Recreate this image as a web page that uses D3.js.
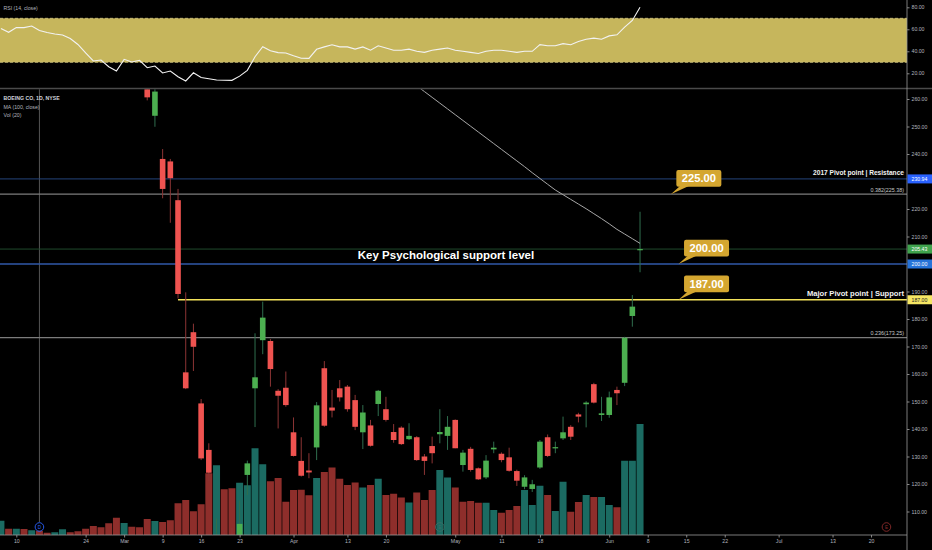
<!DOCTYPE html>
<html>
<head>
<meta charset="utf-8">
<script src="https://cdn.jsdelivr.net/npm/d3@7"></script>
<style>
body { margin: 0; background: #000; overflow: hidden; }
svg { display: block; font-family: "Liberation Sans", Arial, sans-serif; }
</style>
</head>
<body>
<svg id="chart" width="932" height="550"></svg>
<script>
// trading calendar of the chart
var holidays = ["2020-02-17", "2020-04-10", "2020-05-25", "2020-07-03"];
var firstDay = "2020-02-06", lastDay = "2020-06-05";

// volume (millions), one per trading day from Feb 6
var volume = [11.4, 5.0, 5.0, 4.8, 3.8, 3.4, 1.8, 2.2, 4.6, 2.2, 3.0, 5.0, 7.2, 6.2, 9.4, 13.8,
    9.6, 6.6, 6.2, 12.8, 11.2, 10.4, 11.8, 25.4, 28, 19, 24.6, 49.4, 55.8, 36.6, 37.4, 41.8, 39.8, 69.4, 56.6, 43, 45.6, 26.6,
    36, 36.2, 31.8, 45.6, 50.4, 54, 45, 40, 42, 38, 40, 45, 32, 33, 30, 26, 34, 28, 36, 52, 46,
    38, 26.6, 27.2, 25.8, 25.8, 20, 17.8, 20, 23.2, 36, 24, 39.4, 32, 19.2, 42.6, 18.6, 26.4, 32, 30.4, 30.4,
    24, 22.2, 59.4, 59.4, 88.8];
var volUp = [1, 0, 1, 0, 1, 0, 0, 1, 1, 0, 0, 0, 0, 0, 0, 0,
    1, 0, 0, 0, 1, 0, 0, 0, 0, 0, 0, 0, 1, 0, 0, 1, 1, 1, 1, 0, 0, 0,
    0, 0, 0, 1, 0, 0, 0, 0, 0, 1, 0, 1, 0, 0, 0, 1, 0, 0, 0, 1, 1,
    0, 0, 0, 0, 1, 1, 0, 0, 0, 1, 1, 1, 0, 1, 1, 0, 0, 1, 0, 1,
    1, 0, 1, 1, 1];

// candles from Mar 5 (earlier ones sit above the visible range)
var skipped = 19;
var open = [272, 253.9, 238.2, 237.3, 223.2, 160.6, 175.2, 149.3, 132.4, 95, 101, 100, 92, 123.3, 154.8, 172.3, 172, 153.9, 155,
    138.8, 128.4, 124.9, 133.3, 162.1, 147.8, 154.8, 155.4, 150.5, 138.8, 141.3, 149.1, 147.2, 138.9, 140.5, 136.3, 137, 130, 133.8, 138.1, 137.5,
    143.3, 126.9, 132.8, 125.7, 122.4, 132.6, 131, 129.7, 124.7, 119, 118.2, 126, 137, 133.2, 136.6, 140.8, 145.3, 149, 156.3, 145.1,
    145.1, 154.2, 156.8, 181.1, 205];
var high = [280, 264.5, 241.8, 238.2, 227.3, 189.7, 178.3, 150.9, 134.8, 107.5, 103.3, 104, 114, 128.5, 174.8, 186.3, 172.7, 154.5, 160.9,
    144.2, 137, 131.2, 149.8, 164.7, 154.2, 157.8, 156, 152.4, 148.7, 143.3, 154.2, 151.7, 141.8, 141, 142.1, 137.4, 130.9, 137.2, 147.2, 144.7,
    143.5, 132.4, 133.5, 126, 130.5, 135.4, 131.5, 133.2, 125.2, 123.2, 121.5, 136, 138, 135.4, 144.5, 141.4, 145.9, 150.1, 156.8, 151.7,
    153.6, 155.4, 173.5, 188.7, 219];
var low = [259.5, 249.9, 223.9, 215, 187.5, 154.5, 161.1, 128.7, 121, 89, 91, 92, 89, 116, 140.7, 167.2, 155.4, 140.2, 148.1,
    130, 122.7, 122.1, 128.7, 140.8, 144.2, 150, 146.3, 139.6, 132.7, 133.6, 144.7, 142.7, 135, 134.2, 136, 128.4, 123.3, 127.5, 134.8, 132.4,
    133, 124.5, 124.5, 121.5, 121.8, 131.2, 127.9, 124.5, 119.3, 118.1, 117.1, 125.5, 129.8, 131.2, 136, 136, 142.4, 140.6, 149.3, 142.9,
    144.1, 148.7, 155.6, 177.2, 197];
var close = [260.6, 262.7, 227.3, 231.2, 189.1, 154.8, 169.9, 129.3, 124.1, 101, 97, 95, 105.5, 127.5, 158.8, 180.5, 161.8, 152.1, 148.7,
    130.2, 123, 124.2, 148.6, 141.2, 146.7, 151.5, 147.2, 140.8, 146, 133.9, 153.9, 143.3, 136, 134.5, 137.5, 128.7, 128.4, 131.2, 138.9, 140.8,
    133, 131.4, 125.1, 121.7, 128.5, 133.2, 128.7, 124.8, 121.2, 122.4, 119.9, 135.4, 130.2, 133.4, 138.8, 137.2, 144.5, 149.6, 149.6, 145.7,
    151.5, 153, 173.2, 184.5, 205.43];

// MA(100) from Apr 22 (above the pane before that)
var maStart = 53;
var ma100 = [267, 264.8, 262.7, 260.6, 258.5, 256.4, 254.3, 252.2, 250.1, 248.0, 245.9, 243.8, 241.7, 239.6, 237.5, 235.4,
    233.2, 231.1, 229.0, 226.9, 225.2, 223.5, 221.8, 220.1, 218.3, 216.5, 214.6, 212.6, 210.9, 209.2, 207.5];

// RSI(14), one per trading day from Feb 6
var rsi = [60.7, 57.3, 61.5, 61.5, 63, 58.9, 57.1, 55.7, 54.8, 51.6, 46.2, 38.5, 31.2, 32.1, 26, 22.1,
    32.7, 30.3, 31.8, 25.1, 26.6, 20.3, 22.1, 16.9, 13, 20.5, 16.2, 15.1, 13.9, 13.7, 13.6, 17.4, 22.7, 35.1, 44.2, 40.5, 38.8, 38.5,
    36, 33.7, 33.6, 41.8, 44, 46, 44, 44, 42, 44, 41, 45, 43, 41, 41, 42, 40, 39, 41, 42, 43,
    41, 40, 39, 38, 40, 41, 41, 40, 39, 40, 40, 46, 45, 45, 47, 46, 49, 51, 52, 51,
    54, 55, 62, 68, 80];

// x axis labels
var tickDates = ["2020-02-10", "2020-02-24", "2020-03-02", "2020-03-09", "2020-03-16", "2020-03-23", "2020-04-01", "2020-04-13",
    "2020-04-20", "2020-05-01", "2020-05-11", "2020-05-18", "2020-06-01", "2020-06-08", "2020-06-15", "2020-06-22", "2020-07-01",
    "2020-07-13", "2020-07-20", "2020-07-27"];
var tickText = ["10", "24", "Mar", "9", "16", "23", "Apr", "13", "20", "May", "11", "18", "Jun", "8", "15", "22", "Jul", "13", "20", "27"];
// price labels (230 and 200 sit under the price tags)
var priceTicks = [110, 120, 130, 140, 150, 160, 170, 180, 190, 210, 220, 240, 250, 260];
var rsiTicks = [20, 40, 60, 80];

// drawn levels
var pivotResistance = 230.94, fib382 = 225.38, lastClose = 205.43, keyLevel = 200.00, pivotSupport = 187.00, fib236 = 173.25;
var calloutValues = [225.00, 200.00, 187.00];
var calloutLines = [225.38, 200.00, 187.00];
var calloutDates = ["2020-06-11", "2020-06-12", "2020-06-12"];

var parse = d3.timeParse("%Y-%m-%d"), fmt = d3.timeFormat("%Y-%m-%d");
function tradingDays(from, to) {
    return d3.timeDay.range(parse(from), d3.timeDay.offset(parse(to), 1)).filter(function (d) {
        var w = d.getDay();
        return w > 0 && w < 6 && holidays.indexOf(fmt(d)) < 0;
    });
}
function dayIndex(s) { return tradingDays(firstDay, s).length - 1; }
var days = tradingDays(firstDay, lastDay);

var W = 932, H = 550, plotRight = 907, rsiBottom = 88.5, axisY = 535;
var x = d3.scaleLinear().domain([-0.12, 117.67]).range([0, plotRight]);
var yP = d3.scaleLinear().domain([110, 260]).range([511.5, 99]);
var yV = d3.scaleLinear().domain([0, 100]).range([axisY, 410]);
var yR = d3.scaleLinear().domain([30, 70]).range([62.3, 18.3]);
var green = "#4caf50", red = "#ef5350";
var fmt2 = d3.format(".2f");

var svg = d3.select("#chart");
svg.append("rect").attr("width", W).attr("height", H).attr("fill", "#000");

var defs = svg.append("defs");
defs.append("clipPath").attr("id", "pricePane").append("rect")
    .attr("x", 0).attr("y", rsiBottom + 0.8).attr("width", plotRight).attr("height", axisY - rsiBottom - 0.8);
defs.append("clipPath").attr("id", "rsiPane").append("rect")
    .attr("x", 0).attr("y", 0).attr("width", plotRight).attr("height", rsiBottom);

// ---------- price pane ----------
var price = svg.append("g").attr("clip-path", "url(#pricePane)");

// ex-dividend marker line
price.append("line")
    .attr("x1", x(dayIndex("2020-02-13"))).attr("x2", x(dayIndex("2020-02-13")))
    .attr("y1", rsiBottom).attr("y2", 522)
    .attr("stroke", "#555").attr("stroke-width", 1);

// volume
price.selectAll(".vol").data(days).enter().append("rect")
    .attr("x", function (d, i) { return x(i) - 3.5; })
    .attr("width", 7)
    .attr("y", function (d, i) { return yV(volume[i]); })
    .attr("height", function (d, i) { return axisY - yV(volume[i]); })
    .attr("fill", function (d, i) { return volUp[i] ? "#1b6b62" : "#8e2e2b"; });

// horizontal levels
function hline(p, x0, color, w) {
    price.append("line").attr("x1", x0).attr("x2", plotRight)
        .attr("y1", yP(p)).attr("y2", yP(p))
        .attr("stroke", color).attr("stroke-width", w);
}
hline(pivotResistance, 0, "#24447a", 1);
hline(fib382, 0, "#7c7c7c", 1.2);
hline(lastClose, 0, "#1f4a2c", 1);
hline(keyLevel, 0, "#3158a8", 1.5);
hline(pivotSupport, x(dayIndex("2020-03-11")), "#f3e25a", 1.6);
hline(fib236, 0, "#7c7c7c", 1.2);

// candles
var candles = price.selectAll(".candle").data(close).enter().append("g");
candles.append("line")
    .attr("x1", function (d, i) { return x(i + skipped); })
    .attr("x2", function (d, i) { return x(i + skipped); })
    .attr("y1", function (d, i) { return yP(high[i]); })
    .attr("y2", function (d, i) { return yP(low[i]); })
    .attr("stroke", function (d, i) { return close[i] >= open[i] ? "#2f6e4e" : "#8c3434"; })
    .attr("stroke-width", 1);
candles.append("rect")
    .attr("x", function (d, i) { return x(i + skipped) - 2.8; })
    .attr("width", 5.6)
    .attr("y", function (d, i) { return yP(Math.max(open[i], close[i])); })
    .attr("height", function (d, i) { return Math.max(1.2, Math.abs(yP(open[i]) - yP(close[i]))); })
    .attr("fill", function (d, i) { return close[i] >= open[i] ? green : red; });

// MA(100)
price.append("path")
    .datum(ma100)
    .attr("fill", "none").attr("stroke", "#a7a7a7").attr("stroke-width", 1)
    .attr("d", d3.line().x(function (d, i) { return x(i + maStart); }).y(function (d) { return yP(d); }));

// level captions
function caption(t, p, dy, size, color, bold) {
    svg.append("text").attr("x", plotRight - 3).attr("y", yP(p) + dy)
        .attr("text-anchor", "end").attr("font-size", size)
        .attr("font-weight", bold ? "bold" : "normal").attr("fill", color).text(t);
}
caption("2017 Pivot point | Resistance", pivotResistance, -4, 6.6, "#f2f2f2", true);
caption("0.382(" + fmt2(fib382) + ")", fib382, -2.5, 5.4, "#c8c8c8", false);
caption("Major Pivot point | Support", pivotSupport, -4, 7.6, "#f2f2f2", true);
caption("0.236(" + fmt2(fib236) + ")", fib236, -2.5, 5.4, "#c8c8c8", false);

svg.append("text").attr("x", 446).attr("y", yP(keyLevel) - 5)
    .attr("text-anchor", "middle").attr("font-size", 11.5).attr("font-weight", "bold")
    .attr("fill", "#fff").text("Key Psychological support level");

// callouts
calloutValues.forEach(function (v, i) {
    var ax = x(dayIndex(calloutDates[i])), ay = yP(calloutLines[i]);
    var bx = ax + 5.5, bh = 16.7, bw = 45, by = ay - 7.5 - bh;
    var g = svg.append("g");
    g.append("path")
        .attr("d", "M" + ax + "," + ay + "L" + (bx + 4) + "," + (by + bh - 1) + "L" + (bx + 13) + "," + (by + bh - 1) + "Z")
        .attr("fill", "#d4a630");
    g.append("rect").attr("x", bx).attr("y", by).attr("width", bw).attr("height", bh)
        .attr("rx", 2).attr("fill", "#d4a630");
    g.append("text").attr("x", bx + bw / 2).attr("y", by + bh / 2 + 4)
        .attr("text-anchor", "middle").attr("font-size", 11.2).attr("font-weight", "bold")
        .attr("fill", "#fff").text(fmt2(v));
});

// event markers
function marker(date, letter, color) {
    var cx = x(dayIndex(date));
    svg.append("circle").attr("cx", cx).attr("cy", 527).attr("r", 4.3)
        .attr("fill", "none").attr("stroke", color).attr("stroke-width", 0.9);
    svg.append("text").attr("x", cx).attr("y", 528.8).attr("text-anchor", "middle")
        .attr("font-size", 4.6).attr("fill", color).text(letter);
}
marker("2020-02-13", "D", "#2962ff");
marker("2020-04-29", "E", "#3c6e67");
marker("2020-07-22", "E", "#8a2b2b");

// ---------- RSI pane ----------
var rsiG = svg.append("g").attr("clip-path", "url(#rsiPane)");
rsiG.append("rect").attr("x", 0).attr("width", plotRight)
    .attr("y", yR(70)).attr("height", yR(30) - yR(70)).attr("fill", "#c6b65c");
[70, 30].forEach(function (v) {
    rsiG.append("line").attr("x1", 0).attr("x2", plotRight).attr("y1", yR(v)).attr("y2", yR(v))
        .attr("stroke", "#e4d98e").attr("stroke-width", 0.7).attr("stroke-dasharray", "3,2");
});
rsiG.append("path").datum(rsi)
    .attr("fill", "none").attr("stroke", "#f2f2f2").attr("stroke-width", 1.1)
    .attr("d", d3.line().x(function (d, i) { return x(i); }).y(function (d) { return yR(d); }));

svg.append("line").attr("x1", 0).attr("x2", W).attr("y1", rsiBottom).attr("y2", rsiBottom)
    .attr("stroke", "#4a4a4a").attr("stroke-width", 1.5);

// legends
svg.append("text").attr("x", 3.5).attr("y", 10).attr("font-size", 5.2).attr("fill", "#b2b5be").text("RSI (14, close)");
svg.append("text").attr("x", 3.5).attr("y", 99.6).attr("font-size", 5.2).attr("font-weight", "bold").attr("fill", "#d1d4dc").text("BOEING CO, 1D, NYSE");
svg.append("text").attr("x", 3.5).attr("y", 108.5).attr("font-size", 5.2).attr("fill", "#b2b5be").text("MA (100, close)");
svg.append("text").attr("x", 3.5).attr("y", 117).attr("font-size", 5.2).attr("fill", "#b2b5be").text("Vol (20)");

// ---------- axes ----------
var xAxis = svg.append("g").attr("transform", "translate(0," + axisY + ")")
    .call(d3.axisBottom(x).tickValues(tickDates.map(dayIndex))
        .tickFormat(function (d, i) { return tickText[i]; }).tickSize(2.5).tickPadding(2));
xAxis.select(".domain").remove();
xAxis.selectAll("line").attr("stroke", "#888");
xAxis.selectAll("text").attr("fill", "#b2b5be").attr("font-size", 5.2).attr("font-family", "Liberation Sans, Arial, sans-serif");

svg.append("rect").attr("x", plotRight).attr("y", 0).attr("width", W - plotRight).attr("height", H).attr("fill", "#000");
svg.append("line").attr("x1", plotRight).attr("x2", W).attr("y1", rsiBottom).attr("y2", rsiBottom)
    .attr("stroke", "#4a4a4a").attr("stroke-width", 1.5);
svg.append("line").attr("x1", 0).attr("x2", plotRight).attr("y1", axisY).attr("y2", axisY)
    .attr("stroke", "#9a9a9a").attr("stroke-width", 0.8);
svg.append("line").attr("x1", plotRight).attr("x2", plotRight).attr("y1", 0).attr("y2", H)
    .attr("stroke", "#9a9a9a").attr("stroke-width", 0.8);

function styleAxis(g) {
    g.select(".domain").remove();
    g.selectAll("line").attr("stroke", "#888");
    g.selectAll("text").attr("fill", "#b2b5be").attr("font-size", 5.2).attr("font-family", "Liberation Sans, Arial, sans-serif");
}
svg.append("g").attr("transform", "translate(" + plotRight + ",0)")
    .call(d3.axisRight(yP).tickValues(priceTicks).tickFormat(fmt2).tickSize(2.5).tickPadding(2))
    .call(styleAxis);
svg.append("g").attr("transform", "translate(" + plotRight + ",0)")
    .call(d3.axisRight(yR).tickValues(rsiTicks).tickFormat(fmt2).tickSize(2.5).tickPadding(2))
    .call(styleAxis);

// price tags on the axis
function tag(p, bg, fg) {
    svg.append("rect").attr("x", plotRight + 0.5).attr("y", yP(p) - 4.5).attr("width", W - plotRight).attr("height", 9).attr("fill", bg);
    svg.append("text").attr("x", plotRight + 4.5).attr("y", yP(p) + 1.9).attr("font-size", 5.2).attr("fill", fg).text(fmt2(p));
}
tag(pivotResistance, "#2962ff", "#fff");
tag(lastClose, "#3fa34d", "#fff");
tag(keyLevel, "#2673d9", "#fff");
tag(pivotSupport, "#f5e663", "#222");
</script>
</body>
</html>
